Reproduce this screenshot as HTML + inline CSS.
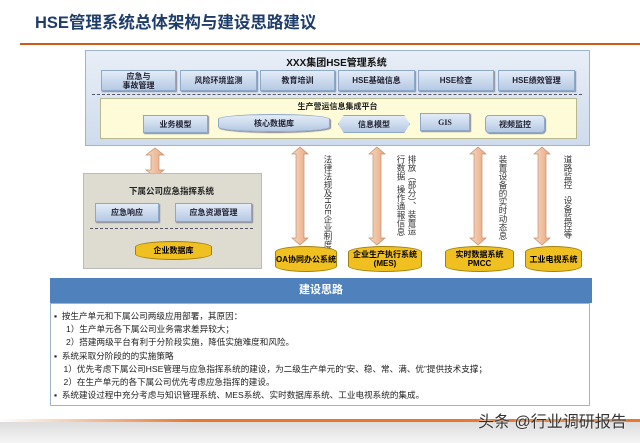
<!DOCTYPE html>
<html><head><meta charset="utf-8"><style>
body{margin:0;width:640px;height:443px;overflow:hidden;background:#fff;font-family:"Liberation Sans","Noto Sans CJK SC",sans-serif;position:relative}
.a{position:absolute}
.btn{position:absolute;top:70px;height:19px;background:linear-gradient(#e3ecf7,#b5c9e3);border:1px solid #8ea8c9;box-shadow:1px 1px 1px #889;font-size:8px;font-weight:bold;color:#223;display:flex;align-items:center;justify-content:center;text-align:center;line-height:9px}
.cyl{position:absolute;background:#f0c020;border:1px solid #a08010;border-radius:50%/6px;font-size:8px;font-weight:bold;color:#000;display:flex;align-items:center;justify-content:center;text-align:center;line-height:9px}
.vt{position:absolute;writing-mode:vertical-rl;font-size:8.5px;color:#333;line-height:11px}
.tx{font-size:8.6px;color:#222;line-height:13.2px}
</style></head><body>
<div class="a" style="left:35px;top:9px;font-size:16.5px;font-weight:bold;color:#1f3d6b">HSE管理系统总体架构与建设思路建议</div>
<div class="a" style="left:20px;top:43px;width:620px;height:2px;background:#d05a18"></div>

<div class="a" style="left:85px;top:50px;width:503px;height:94px;background:linear-gradient(#e8eef6,#cfdced);border:1px solid #9fb4cc"></div>
<div class="a" style="left:85px;top:54px;width:503px;text-align:center;font-size:10px;font-weight:bold;color:#111">XXX集团HSE管理系统</div>
<div class="btn" style="left:101px;width:73px">应急与<br>事故管理</div>
<div class="btn" style="left:180px;width:75px">风险环境监测</div>
<div class="btn" style="left:260px;width:73px">教育培训</div>
<div class="btn" style="left:338px;width:75px">HSE基础信息</div>
<div class="btn" style="left:418px;width:74px">HSE检查</div>
<div class="btn" style="left:498px;width:75px">HSE绩效管理</div>
<div class="a" style="left:92px;top:94px;width:490px;border-top:1px dashed #556"></div>
<div class="a" style="left:100px;top:98px;width:475px;height:39px;background:#fdfbd8;border:1px solid #b8b890"></div>
<div class="a" style="left:100px;top:101px;width:475px;text-align:center;font-size:8px;font-weight:bold;color:#222">生产营运信息集成平台</div>
<div class="btn" style="left:143px;top:115px;width:63px;height:16px">业务模型</div>
<div class="btn" style="left:218px;top:114px;width:110px;height:16px;border-radius:50%/5px">核心数据库</div>
<div class="btn" style="left:338px;top:115px;width:70px;height:16px;clip-path:polygon(8% 0,92% 0,100% 50%,92% 100%,8% 100%,0 50%)">信息模型</div>
<div class="btn" style="left:420px;top:113px;width:48px;height:16px;font-family:'Liberation Serif',serif">GIS</div>
<div class="btn" style="left:485px;top:115px;width:58px;height:16px;border-radius:4px">视频监控</div>

<svg class="a" style="left:0;top:0" width="640" height="443">
<defs><linearGradient id="g" x1="0" x2="1"><stop offset="0" stop-color="#f8d8c0"/><stop offset="1" stop-color="#e8a880"/></linearGradient></defs>
<g fill="url(#g)" stroke="#c09070" stroke-width="0.7">
<path d="M155 148 l9 7 h-5 v15 h5 l-9 7 l-9 -7 h5 v-15 h-5 z"/>
<path d="M300 147 l8 7 h-4 v84 h4 l-8 7 l-8 -7 h4 v-84 h-4 z"/>
<path d="M377 147 l8 7 h-4 v84 h4 l-8 7 l-8 -7 h4 v-84 h-4 z"/>
<path d="M478 147 l8 7 h-4 v84 h4 l-8 7 l-8 -7 h4 v-84 h-4 z"/>
<path d="M542 147 l8 7 h-4 v84 h4 l-8 7 l-8 -7 h4 v-84 h-4 z"/>
</g></svg>
<div class="vt" style="left:322px;top:155px">法律法规及HSE企业制度</div>
<div class="vt" style="left:395px;top:155px">排放（部分）、装置运<br>行数据&nbsp;&nbsp;操作通報信息</div>
<div class="vt" style="left:497px;top:155px">装置设备的实时动态息</div>
<div class="vt" style="left:562px;top:155px">道路监控&nbsp;&nbsp;&nbsp;设备监控等</div>

<div class="a" style="left:83px;top:173px;width:177px;height:94px;background:#dedbd1;border:1px solid #bbb"></div>
<div class="a" style="left:83px;top:185px;width:177px;text-align:center;font-size:8.5px;font-weight:bold;color:#222">下属公司应急指挥系统</div>
<div class="btn" style="left:95px;top:203px;width:62px;height:17px">应急响应</div>
<div class="btn" style="left:175px;top:203px;width:75px;height:17px">应急资源管理</div>
<div class="a" style="left:90px;top:228px;width:163px;border-top:1px dashed #556"></div>
<div class="cyl" style="left:135px;top:241px;width:75px;height:17px">企业数据库</div>

<div class="cyl" style="left:275px;top:246px;width:60px;height:24px">OA协同办公系统</div>
<div class="cyl" style="left:348px;top:246px;width:72px;height:24px">企业生产执行系统<br>(MES)</div>
<div class="cyl" style="left:445px;top:246px;width:67px;height:24px">实时数据系统<br>PMCC</div>
<div class="cyl" style="left:525px;top:246px;width:55px;height:24px">工业电视系统</div>

<div class="a" style="left:50px;top:278px;width:542px;height:25px;background:#4f81bd;color:#fff;font-weight:bold;font-size:11px;text-align:center;line-height:25px">建设思路</div>
<div class="a" style="left:50px;top:303px;width:540px;height:103px;border:1px solid #9db4d0;padding-top:6px;box-sizing:border-box">
<div class="tx" style="padding-left:3px">▪&nbsp; 按生产单元和下属公司两级应用部署，其原因：<br>&nbsp;&nbsp;&nbsp;&nbsp;&nbsp;1）生产单元各下属公司业务需求差异较大；<br>&nbsp;&nbsp;&nbsp;&nbsp;&nbsp;2）搭建两级平台有利于分阶段实施，降低实施难度和风险。<br>▪&nbsp; 系统采取分阶段的的实施策略<br>&nbsp;&nbsp;&nbsp;&nbsp;1）优先考虑下属公司HSE管理与应急指挥系统的建设，为二级生产单元的“安、稳、常、满、优”提供技术支撑；<br>&nbsp;&nbsp;&nbsp;&nbsp;2）在生产单元的各下属公司优先考虑应急指挥的建设。<br>▪&nbsp; 系统建设过程中充分考虑与知识管理系统、MES系统、实时数据库系统、工业电视系统的集成。</div>
</div>
<div class="a" style="left:0;top:419px;width:640px;height:3px;background:linear-gradient(90deg,#fff,#e87830 30%,#e87830)"></div>
<div class="a" style="left:0;top:422px;width:640px;height:21px;background:linear-gradient(#ddd,#f4f4f4)"></div>
<div class="a" style="left:478px;top:408px;font-size:16px;color:#333;text-shadow:0 0 2px #fff">头条 @行业调研报告</div>
</body></html>
